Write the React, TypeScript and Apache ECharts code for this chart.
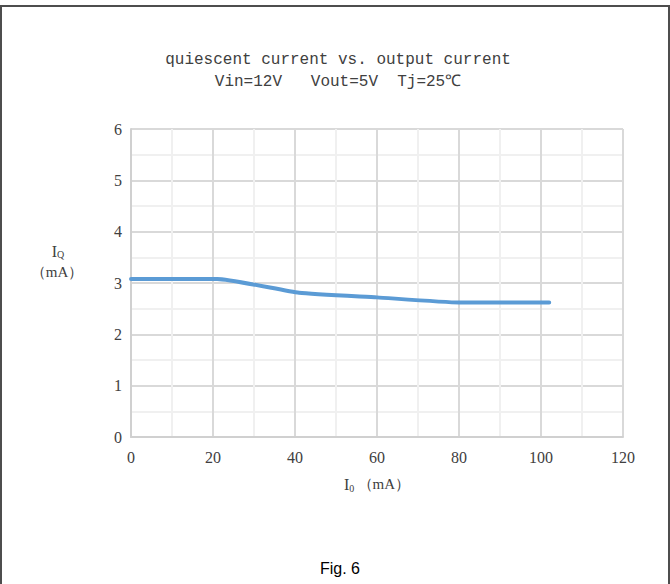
import React, { useEffect, useRef } from "react";
import * as echarts from "echarts";

// Output current (mA) and matching quiescent current (mA)
const outputCurrent = [0, 21, 41, 60, 80, 102];
const quiescentCurrent = [3.08, 3.08, 2.81, 2.72, 2.62, 2.62];

const titleLine1 = "quiescent current vs. output current";
const titleLine2 = "Vin=12V   Vout=5V  Tj=25℃";
const caption = "Fig. 6";

const SERIF = "'Liberation Serif', 'DejaVu Serif', serif";
const MONO = "'Liberation Mono', 'DejaVu Sans Mono', monospace";
const TEXT = "#404040";

export default function App() {
  const ref = useRef<HTMLDivElement>(null);

  useEffect(() => {
    if (!ref.current) return;
    const chart = echarts.init(ref.current, null, { renderer: "svg" });
    const points = outputCurrent.map((x, i) => [x, quiescentCurrent[i]]);

    chart.setOption({
      animation: false,
      backgroundColor: "#ffffff",
      title: [
        {
          text: titleLine1,
          left: 333,
          top: 47,
          textAlign: "center",
          textStyle: { fontFamily: MONO, fontSize: 16, fontWeight: "normal", color: TEXT },
        },
        {
          text: titleLine2,
          left: 333,
          top: 69,
          textAlign: "center",
          textStyle: { fontFamily: MONO, fontSize: 16, fontWeight: "normal", color: TEXT },
        },
        {
          text: caption,
          left: 335,
          top: 555,
          textAlign: "center",
          textStyle: { fontFamily: "'Liberation Sans', Arial, sans-serif", fontSize: 16, fontWeight: "normal", color: "#000000" },
        },
      ],
      grid: { left: 131, right: 47, top: 129, bottom: 147 },
      xAxis: {
        type: "value",
        min: 0,
        max: 120,
        interval: 20,
        name: "{i|I}{s|0} {u|（mA）}",
        nameLocation: "middle",
        nameGap: 38,
        nameTextStyle: {
          rich: {
            i: { fontFamily: SERIF, fontSize: 16, color: TEXT },
            s: { fontFamily: SERIF, fontSize: 10, color: TEXT, verticalAlign: "bottom", padding: [8, 0, 0, 0] },
            u: { fontFamily: SERIF, fontSize: 15, color: TEXT },
          },
        },
        axisLine: { show: true, lineStyle: { color: "#d0d0d0", width: 2 } },
        axisTick: { show: false },
        axisLabel: { margin: 12, fontFamily: SERIF, fontSize: 16, color: TEXT },
        splitLine: { show: true, lineStyle: { color: "#d9d9d9", width: 2 } },
        minorTick: { show: false, splitNumber: 2 },
        minorSplitLine: { show: true, lineStyle: { color: "#f0f0f0", width: 2 } },
      },
      yAxis: {
        type: "value",
        min: 0,
        max: 6,
        interval: 1,
        axisLine: { show: true, lineStyle: { color: "#d0d0d0", width: 2 } },
        axisTick: { show: false },
        axisLabel: { margin: 9, fontFamily: SERIF, fontSize: 16, color: TEXT },
        splitLine: { show: true, lineStyle: { color: "#d9d9d9", width: 2 } },
        minorTick: { show: false, splitNumber: 2 },
        minorSplitLine: { show: true, lineStyle: { color: "#f0f0f0", width: 2 } },
      },
      series: [
        {
          type: "line",
          data: points,
          showSymbol: false,
          symbol: "none",
          lineStyle: { color: "#5b9bd5", width: 4, cap: "round", join: "round" },
          smooth: 0.15,
        },
      ],
      graphic: [
        // page frame
        { type: "line", shape: { x1: 0, y1: 6, x2: 670, y2: 6 }, style: { stroke: "#4d4d4d", lineWidth: 2 } },
        { type: "line", shape: { x1: 1, y1: 5, x2: 1, y2: 584 }, style: { stroke: "#4d4d4d", lineWidth: 2 } },
        { type: "line", shape: { x1: 669, y1: 5, x2: 669, y2: 584 }, style: { stroke: "#4d4d4d", lineWidth: 2 } },
        // y-axis name
        {
          type: "text",
          x: 58,
          y: 251,
          style: {
            text: "{i|I}{s|Q}",
            align: "center",
            verticalAlign: "middle",
            rich: {
              i: { fontFamily: SERIF, fontSize: 16, fill: TEXT },
              s: { fontFamily: SERIF, fontSize: 10, fill: TEXT, verticalAlign: "bottom", padding: [7, 0, 0, 0] },
            },
          },
        },
        {
          type: "text",
          x: 57,
          y: 272,
          style: {
            text: "（mA）",
            align: "center",
            verticalAlign: "middle",
            fontFamily: SERIF,
            fontSize: 15,
            fill: TEXT,
          },
        },
      ],
    });

    return () => chart.dispose();
  }, []);

  return (
    <div
      ref={ref}
      style={{ position: "fixed", left: 0, top: 0, width: 670, height: 584 }}
    />
  );
}
